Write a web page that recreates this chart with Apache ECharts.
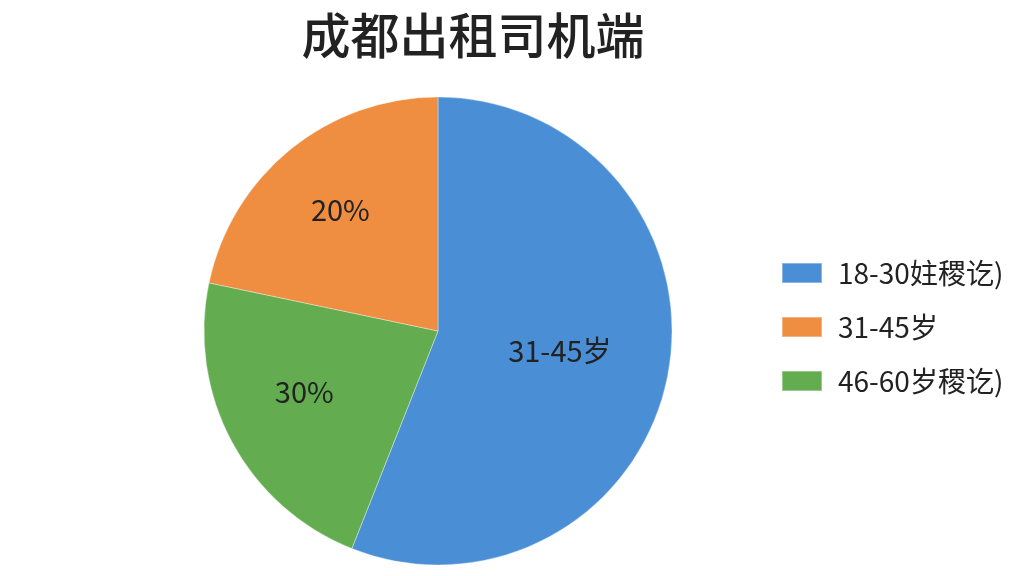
<!DOCTYPE html>
<html>
<head>
<meta charset="utf-8">
<style>
  html, body { margin: 0; padding: 0; background: #fff; }
  #chart { width: 1024px; height: 576px; }
</style>
<script src="https://cdn.jsdelivr.net/npm/echarts@6/dist/echarts.min.js"></script>
</head>
<body>
<div id="chart"></div>
<script>
// slice order follows the drawing clockwise from 12 o'clock
var names = ['18-30妵稷讫)', '46-60岁稷讫)', '31-45岁'];
var values = [56, 22.3, 21.7];
var labels = ['31-45岁', '30%', '20%'];
var colors = ['#4a8ed6', '#63ad50', '#ef8d40'];
var legendOrder = ['18-30妵稷讫)', '31-45岁', '46-60岁稷讫)'];

(function() {
  var chart = echarts.init(document.getElementById('chart'), null, { renderer: 'canvas' });
  var font = '"Noto Sans CJK SC", "Noto Sans", sans-serif';

  var data = names.map(function(n, i) {
    return { name: n, value: values[i], itemStyle: { color: colors[i] } };
  });

  // nudge the two small-slice labels outward like the original
  var nudge = [[4, -3], [-28, 4], [-22, -28]];

  chart.setOption({
    animation: false,
    title: {
      text: '成都出租司机端',
      left: 468,
      top: 6,
      textAlign: 'center',
      textStyle: { fontFamily: font, fontSize: 49, fontWeight: 500, color: '#222' }
    },
    legend: {
      data: legendOrder,
      orient: 'vertical',
      left: 781,
      top: 259,
      padding: 0,
      itemWidth: 40,
      itemHeight: 20,
      itemGap: 26,
      icon: 'rect',
      textStyle: { fontFamily: font, fontSize: 28, lineHeight: 26, color: '#222', padding: [0, 0, 0, 11] }
    },
    series: [{
      type: 'pie',
      center: [438, 331],
      radius: 234,
      startAngle: 90,
      clockwise: true,
      data: data,
      itemStyle: { borderColor: 'rgba(255,255,255,0.35)', borderWidth: 1 },
      label: {
        show: true,
        position: 'inside',
        fontFamily: font,
        fontSize: 29,
        color: '#222',
        formatter: function(p) { return labels[p.dataIndex]; }
      },
      labelLine: { show: false },
      labelLayout: function(p) {
        return { dx: nudge[p.dataIndex][0], dy: nudge[p.dataIndex][1] };
      },
      emphasis: { disabled: true }
    }]
  });
  window.addEventListener('resize', function() { chart.resize(); });
})();
</script>
</body>
</html>
